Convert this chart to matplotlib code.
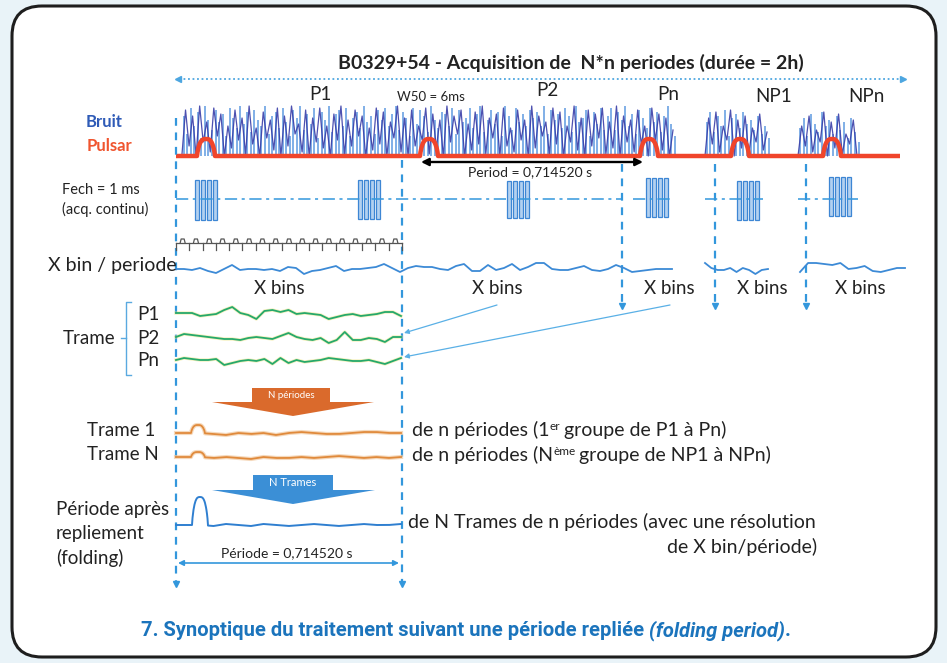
import numpy as np
import matplotlib.pyplot as plt
from matplotlib.patches import FancyBboxPatch, Polygon, Rectangle

plt.rcParams['font.family'] = ['Lato', 'DejaVu Sans']

# raw noise: alternating trough / crest amplitudes (px above baseline)
bruit_1 = [
    2, 46, 10, 40, 0, 50, 14, 34, 4, 48, 20, 42, 0, 30, 8, 46, 16, 38, 2, 50,
    12, 28, 0, 44, 18, 36, 6, 48, 0, 40, 10, 50, 22, 32, 4, 46, 0, 38, 14, 48,
    8, 30, 0, 42, 16, 50, 2, 36, 10, 46, 20, 40, 0, 28, 6, 48, 12, 44, 0, 34,
    18, 50, 4, 38, 0, 46, 10, 30, 16, 48, 2, 42, 8, 36, 0, 50, 14, 40, 22, 46,
    0, 32, 6, 44, 12, 50, 2, 38, 18, 42, 0, 48, 10, 28, 4, 46, 16, 36, 0, 50,
    8, 40, 20, 34, 2, 48, 12, 44, 0, 30, 14, 50, 6, 38, 0, 46, 10, 42, 18, 48,
    2, 34, 8, 50, 0, 40, 14, 36, 4, 46, 12, 30, 0, 48, 16, 42, 6, 38, 0, 26,
]
bruit_2 = [0, 38, 12, 44, 4, 30, 16, 46, 0, 36, 8, 40, 2, 28, 14, 42, 6, 24]
bruit_3 = [0, 30, 10, 40, 4, 26, 14, 44, 0, 34, 8, 42, 2, 22, 12, 36, 0]

# lighter single spikes between the crests
bruit_1_v = [
    40, 22, 48, 30, 44, 18, 50, 36, 26, 46, 34, 42, 20, 48, 38, 28, 50, 32, 44, 24,
    46, 36, 30, 50, 22, 40, 44, 28, 48, 34, 20, 46, 38, 50, 26, 42, 32, 48, 18, 44,
    36, 50, 24, 42, 46, 30, 48, 20, 38, 44, 28, 50, 34, 40, 22, 46, 36, 48, 30, 42,
    50, 26, 44, 38, 20, 48, 32, 46, 40, 24, 50, 36, 28, 44, 42, 30, 48, 22, 46, 34,
    38, 48, 28, 42, 50, 24, 36, 46, 32, 44, 20, 50, 40, 26, 48, 34, 42, 30, 46, 38,
    44, 30, 50, 22, 46, 36, 42, 28, 48, 40, 24, 50, 34, 38, 46, 20, 44, 32, 48, 26,
    40, 48, 26, 44, 36, 50, 30, 42, 22, 46, 38, 28, 48, 34, 44, 24, 40, 50, 32, 20,
]
bruit_2_v = [34, 44, 24, 40, 30, 46, 20, 38, 42, 28, 44, 32, 36, 26, 40, 22, 30, 18]
bruit_3_v = [28, 38, 20, 42, 32, 24, 44, 30, 36, 22, 40, 26, 34, 18, 38, 24, 14]

# pulsar pulses
pulse_x = [206, 429, 649, 740, 832]
pulse_h = 17

# sampling bursts (left edge, top, bottom)
burst_x = [195, 358, 507, 646, 737, 829]
burst_top = [180, 180, 181, 178, 181, 177]
burst_bot = [220, 219, 218, 217, 220, 216]

# binned signal, offsets (px) every 8 px
xbin_1 = [0, 0, -1, 1, -2, -4, 0, 4, -1, 0, 0, -1, 0, -2, 2, 1, -5, -2, -1, 1,
          3, -2, 0, 0, 1, 2, 5, 1, -3, 1, 3, 2, 2, 0, -1, 3, 5, -2, -2, 4,
          -1, 1, 5, -1, 2, 6, 6, 0, -1, -1, 1, 3, -1, -2, 0, 4, 1, -3, -2, -1,
          0, 0, 0]
xbin_2 = [6, 1, -1, -1, 1, -3, 1, -1, -5, -1, 0]
xbin_3 = [-3, 6, 6, 5, 4, 6, 0, 1, 3, -2, -3, -1, 1, 1]

# one frame per period (P1, P2, Pn)
trame_p1 = [0, 0, 0, -3, -2, -1, 3, 6, 0, -2, -6, 2, 3, 1, 3, -1, 0, -1, -2, -6,
            -4, -2, -1, -3, -2, -1, 1, 1, -3]
trame_p2 = [0, 3, 2, 1, 0, -1, -2, -2, -3, -1, 0, -1, -2, 1, 4, 0, -2, -3, -1, -6,
            -3, 5, -3, -3, -1, -2, -5, 0, 0]
trame_pn = [0, 2, 1, 0, 0, 1, -5, -3, -1, 0, -1, 1, -4, 2, -3, 0, -2, -1, 0, 2,
            1, 0, -1, -1, 0, -2, -4, -1, 2]

# sums over n periods, offsets every 12 px
trame_1 = [0, 0, 0, -1, -2, 0, -1, 0, -2, 0, 1, 0, -1, -1, 0, 1, 1, 0, 0]
trame_n = [0, 0, 0, -1, 0, -1, -2, 0, -1, -1, 0, -1, 0, 1, 0, -1, 0, -1, 0]
trame_peak = [8, 5]

# folded profile
folded = [0, 0, 0, -1, 1, 0, -1, 1, 0, -1, 0, 1, 0, -1, 0, 1, 0, 0, 1]
folded_peak = 28

BLUE = '#3397dc'
TXT = '#222222'


def bump(x, c, h, w):
    u = np.clip(np.abs(x - c) / w, 0, 1)
    return h * (1 - u ** 3) ** 0.8


fig = plt.figure(figsize=(9.47, 6.63), dpi=100)
fig.patch.set_facecolor('#e9f3f8')
ax = fig.add_axes([0, 0, 1, 1])
ax.set_xlim(0, 947)
ax.set_ylim(663, 0)
ax.axis('off')

ax.add_patch(FancyBboxPatch((12, 6), 924, 651, boxstyle='round,pad=0,rounding_size=30',
                            fc='white', ec='#1e1e1e', lw=2.2))

# title and total acquisition arrow
ax.text(571, 63, 'B0329+54 - Acquisition de  N*n periodes (durée = 2h)', ha='center',
        va='center', fontsize=14, fontweight='bold', color=TXT)
ax.plot([179, 902], [79, 79], ls=(0, (1, 1.5)), color='#4da6e0', lw=1.3)
ax.plot([178], [79], marker='<', ms=5, color='#4da6e0')
ax.plot([903], [79], marker='>', ms=5, color='#4da6e0')

for s, x, y in [('P1', 320, 95), ('P2', 547, 90), ('Pn', 668, 94), ('NP1', 774, 97), ('NPn', 866, 97)]:
    ax.text(x, y, s, ha='center', va='center', fontsize=13.5, color=TXT)
ax.text(431, 97, 'W50 = 6ms', ha='center', va='center', fontsize=9.5, color=TXT)

ax.text(104, 122, 'Bruit', ha='center', va='center', fontsize=12, fontweight='bold', color='#2f5bb7')
ax.text(109, 146, 'Pulsar', ha='center', va='center', fontsize=12, fontweight='bold', color='#f0552f')

# noise
for vals, spikes, x0, x1 in [(bruit_1, bruit_1_v, 182, 673), (bruit_2, bruit_2_v, 705, 767),
                             (bruit_3, bruit_3_v, 798, 857)]:
    xs = np.linspace(x0, x1, len(vals))
    step = xs[1] - xs[0]
    ax.vlines(xs + step / 2, 156, 156 - np.array(spikes), color='#4d8fdd', lw=1.1, alpha=0.9)
    ax.plot(xs, 156 - np.array(vals), color='#3a3ea8', lw=0.9, alpha=0.9)

# pulsar signal
xr = np.arange(176, 900.5, 0.5)
yr = 156 - sum(bump(xr, c, pulse_h, 9) for c in pulse_x)
ax.plot(xr, yr, color='#f0452b', lw=3.2, solid_capstyle='butt')

# dashed period markers
for x, y0, y1 in [(176, 118, 582), (402, 160, 582), (622, 164, 304), (715, 164, 304), (806, 164, 304)]:
    ax.plot([x, x], [y0, y1], ls=(0, (3.5, 3)), color=BLUE, lw=1.6)
    ax.plot([x], [y1 + 2], marker='v', ms=5, color=BLUE)

ax.annotate('', xy=(421, 162), xytext=(643, 162),
            arrowprops=dict(arrowstyle='<|-|>', color='black', lw=1.7, mutation_scale=11,
                            shrinkA=0, shrinkB=0))
ax.text(530, 172, 'Period = 0,714520 s', ha='center', va='center', fontsize=10, color=TXT)

# sampling
ax.text(62, 190, 'Fech = 1 ms', ha='left', va='center', fontsize=10.5, color=TXT)
ax.text(62, 209, '(acq. continu)', ha='left', va='center', fontsize=10.5, color=TXT)
for x0, x1 in [(176, 622), (633, 672), (705, 763), (798, 858)]:
    ax.plot([x0, x1], [199, 199], ls=(0, (8, 3, 2, 3)), color=BLUE, lw=1.1)
for x, t, b in zip(burst_x, burst_top, burst_bot):
    for k in range(4):
        ax.add_patch(Rectangle((x + 6 * k, t), 4, b - t, fc='#b3d1f0', ec='#3d86d4', lw=0.9))

# bin ruler
ticks = np.linspace(176, 402, 18)
ax.plot([176, 402], [243, 243], color='#555555', lw=0.9)
for xt in ticks:
    ax.plot([xt, xt], [243, 250], color='#555555', lw=0.9)
for xm in (ticks[:-1] + ticks[1:]) / 2:
    ax.plot([xm - 2.5, xm - 1.5, xm + 1.5, xm + 2.5], [243, 239, 239, 243], color='#555555', lw=0.9)

# X bins per period
ax.text(48, 265, 'X bin / periode', ha='left', va='center', fontsize=14, color=TXT)
for vals, x0, x1 in [(xbin_1, 176, 672), (xbin_2, 705, 768), (xbin_3, 800, 905)]:
    xs = np.linspace(x0, x1, len(vals))
    ax.plot(xs, 269 - np.array(vals), color='#3c8ad6', lw=1.3)
for x in [279, 497, 669, 762, 860]:
    ax.text(x, 288, 'X bins', ha='center', va='center', fontsize=13.5, color=TXT)

for x0, y1 in [(497, 333), (670, 357)]:
    ax.annotate('', xy=(404, y1), xytext=(x0, 305),
                arrowprops=dict(arrowstyle='-|>', color='#5ab0e6', lw=0.9, mutation_scale=7,
                                shrinkA=0, shrinkB=0))

# frames
ax.text(89, 338, 'Trame', ha='center', va='center', fontsize=13.5, color=TXT)
ax.plot([131, 126, 126, 131], [302, 302, 375, 375], color='#5aa9e0', lw=1)
ax.plot([121, 126], [338, 338], color='#5aa9e0', lw=1)
for s, y, vals in [('P1', 313, trame_p1), ('P2', 337, trame_p2), ('Pn', 360, trame_pn)]:
    ax.text(148, y + 1, s, ha='center', va='center', fontsize=13.5, color=TXT)
    xs = np.linspace(176, 401, len(vals))
    ax.plot(xs, y - np.array(vals), color='#ece27a', lw=2.4, alpha=0.5)
    ax.plot(xs, y - np.array(vals), color='#25a86b', lw=1.3)

# N periods block arrow
ax.add_patch(Polygon([(252, 388), (330, 388), (330, 402), (374, 402), (293, 416), (212, 402), (252, 402)],
                     closed=True, fc='#da6a2c', ec='none'))
ax.text(291, 395, 'N périodes', ha='center', va='center', fontsize=7, color='white')

xf = np.arange(176, 401.5, 0.5)
for s, y, vals, pk in [('Trame 1', 433, trame_1, trame_peak[0]), ('Trame N', 457, trame_n, trame_peak[1])]:
    ax.text(87, y - 3, s, ha='left', va='center', fontsize=13.5, color=TXT)
    yy = y - np.interp(xf, np.linspace(176, 401, len(vals)), vals) - bump(xf, 198, pk, 7)
    ax.plot(xf, yy, color='#f2c9a0', lw=3, alpha=0.7)
    ax.plot(xf, yy, color='#e08a3c', lw=1.3)


def run_text(x, y, pieces, **common):
    # draws text pieces side by side; each piece: (text, gap_before, raise, size)
    r = fig.canvas.get_renderer()
    for s, gap, rise, size in pieces:
        x += gap
        t = ax.text(x, y - rise, s, ha='left', va='baseline', fontsize=size, **common)
        x += t.get_window_extent(r).width
    return x


run_text(412, 436, [('de n périodes (1', 0, 0, 14), ('er', 0.5, 6, 8.5), ('groupe de P1 à Pn)', 3.5, 0, 14)], color=TXT)
run_text(412, 461, [('de n périodes (N', 0, 0, 14), ('ème', 0.5, 6, 8.5), ('groupe de NP1 à NPn)', 3.5, 0, 14)], color=TXT)

# N frames block arrow
ax.add_patch(Polygon([(253, 475), (333, 475), (333, 490), (375, 490), (293, 504), (212, 490), (253, 490)],
                     closed=True, fc='#3b8fd6', ec='none'))
ax.text(293, 483, 'N Trames', ha='center', va='center', fontsize=8, color='white')

# folded period
ax.text(56, 509, 'Période après', ha='left', va='center', fontsize=13.5, color=TXT)
ax.text(56, 534, 'repliement', ha='left', va='center', fontsize=13.5, color=TXT)
ax.text(56, 558, '(folding)', ha='left', va='center', fontsize=13.5, color=TXT)
yy = 525 - np.interp(xf, np.linspace(176, 401, len(folded)), folded) - bump(xf, 200, folded_peak, 8)
ax.plot(xf, yy, color='#2f7fd0', lw=1.4)
ax.text(408, 522, 'de N Trames de n périodes (avec une résolution', ha='left', va='center',
        fontsize=14, color=TXT)
ax.text(817, 547, 'de X bin/période)', ha='right', va='center', fontsize=14, color=TXT)

ax.text(287, 553, 'Période = 0,714520 s', ha='center', va='center', fontsize=10, color=TXT)
ax.annotate('', xy=(178, 563), xytext=(399, 563),
            arrowprops=dict(arrowstyle='<|-|>', color=BLUE, lw=1.2, mutation_scale=8,
                            shrinkA=0, shrinkB=0))

# caption
cap = dict(color='#1b74bc', fontweight='bold', family=['Liberation Sans Narrow', 'Roboto'])
r = fig.canvas.get_renderer()
probe = [ax.text(0, 0, s, fontsize=14.5, style=st, **cap) for s, st in
         [('7. Synoptique du traitement suivant une période repliée', 'normal'),
          ('(folding period)', 'italic'), ('.', 'normal')]]
wid = [p.get_window_extent(r).width for p in probe]
for p in probe:
    p.remove()
x = 466 - (sum(wid) + 5) / 2
x = run_text(x, 636, [('7. Synoptique du traitement suivant une période repliée', 0, 0, 14.5)], **cap)
x = run_text(x, 636, [('(folding period)', 5, 0, 14.5)], style='italic', **cap)
run_text(x, 636, [('.', 0, 0, 14.5)], **cap)

fig.savefig('out.png', dpi=100, facecolor=fig.get_facecolor())
